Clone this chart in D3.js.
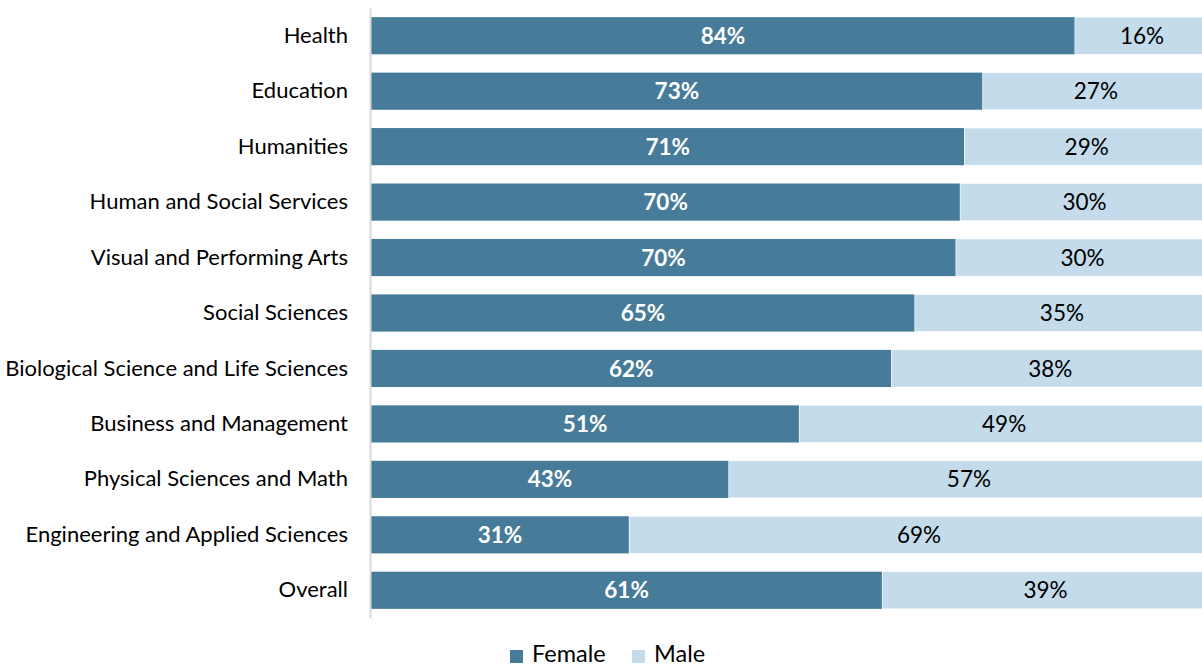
<!DOCTYPE html>
<html><head><meta charset="utf-8">
<script src="https://cdn.jsdelivr.net/npm/d3@7"></script>
<style>body{margin:0;background:#fff;overflow:hidden}</style>
</head><body>
<svg id="chart" width="1202" height="667"></svg>
<script>
const categories = ["Health","Education","Humanities","Human and Social Services","Visual and Performing Arts","Social Sciences","Biological Science and Life Sciences","Business and Management","Physical Sciences and Math","Engineering and Applied Sciences","Overall"];
const female = [84.0, 73.0, 70.8, 70.3, 69.8, 64.9, 62.1, 51.1, 42.7, 30.8, 61.0];
const male   = [16.0, 27.0, 29.2, 29.7, 30.2, 35.1, 37.9, 48.9, 57.3, 69.2, 39.0];
const femaleLabels = ["84%","73%","71%","70%","70%","65%","62%","51%","43%","31%","61%"];
const maleLabels   = ["16%","27%","29%","30%","30%","35%","38%","49%","57%","69%","39%"];
const seriesNames = ["Female","Male"];
const colors = ["#467B99","#C3DBEA"];

const font = "Lato, 'Open Sans', sans-serif";
const svg = d3.select("#chart");
const x = d3.scaleLinear().domain([0,100]).range([371,1209]);
const y = d3.scaleBand().domain(categories).range([8,618]).paddingInner(0.33).paddingOuter(0.165);

const rows = categories.map((c,i)=>({c, f:female[i], m:male[i], fl:femaleLabels[i], ml:maleLabels[i]}));

const g = svg.append("g");
g.selectAll("rect.f").data(rows).join("rect")
  .attr("x", x(0)).attr("y", d=>y(d.c)).attr("width", d=>x(d.f)-x(0)).attr("height", y.bandwidth())
  .attr("fill", colors[0]);
g.selectAll("rect.m").data(rows).join("rect")
  .attr("x", d=>x(d.f)).attr("y", d=>y(d.c)).attr("width", d=>x(d.f+d.m)-x(d.f)).attr("height", y.bandwidth())
  .attr("fill", colors[1]).attr("stroke","#fff").attr("stroke-width",0.6);

g.selectAll("text.fl").data(rows).join("text")
  .attr("x", d=>(x(0)+x(d.f))/2).attr("y", d=>y(d.c)+y.bandwidth()/2)
  .attr("dy","0.36em").attr("text-anchor","middle")
  .style("font-family",font).style("font-size","22.5px").style("font-weight","bold").attr("fill","#fff")
  .text(d=>d.fl);
g.selectAll("text.ml").data(rows).join("text")
  .attr("x", d=>(x(d.f)+x(d.f+d.m))/2).attr("y", d=>y(d.c)+y.bandwidth()/2)
  .attr("dy","0.36em").attr("text-anchor","middle")
  .style("font-family",font).style("font-size","22.5px").attr("fill","#000")
  .text(d=>d.ml);

// y axis
const ax = svg.append("g").attr("transform","translate(370,0)")
  .call(d3.axisLeft(y).tickSize(0).tickPadding(22));
ax.select(".domain").attr("stroke","#d9d9d9").attr("stroke-width",2);
ax.selectAll("text").style("font-family",font).style("font-size","22px").attr("fill","#000");

// legend
const leg = svg.append("g");
const legX = [510, 632];
seriesNames.forEach((s,i)=>{
  leg.append("rect").attr("x",legX[i]).attr("y",650).attr("width",13).attr("height",13).attr("fill",colors[i]);
  leg.append("text").attr("x",legX[i]+22).attr("y",662)
    .style("font-family",font).style("font-size","23.5px").attr("fill","#000").text(s);
});
</script>
</body></html>
